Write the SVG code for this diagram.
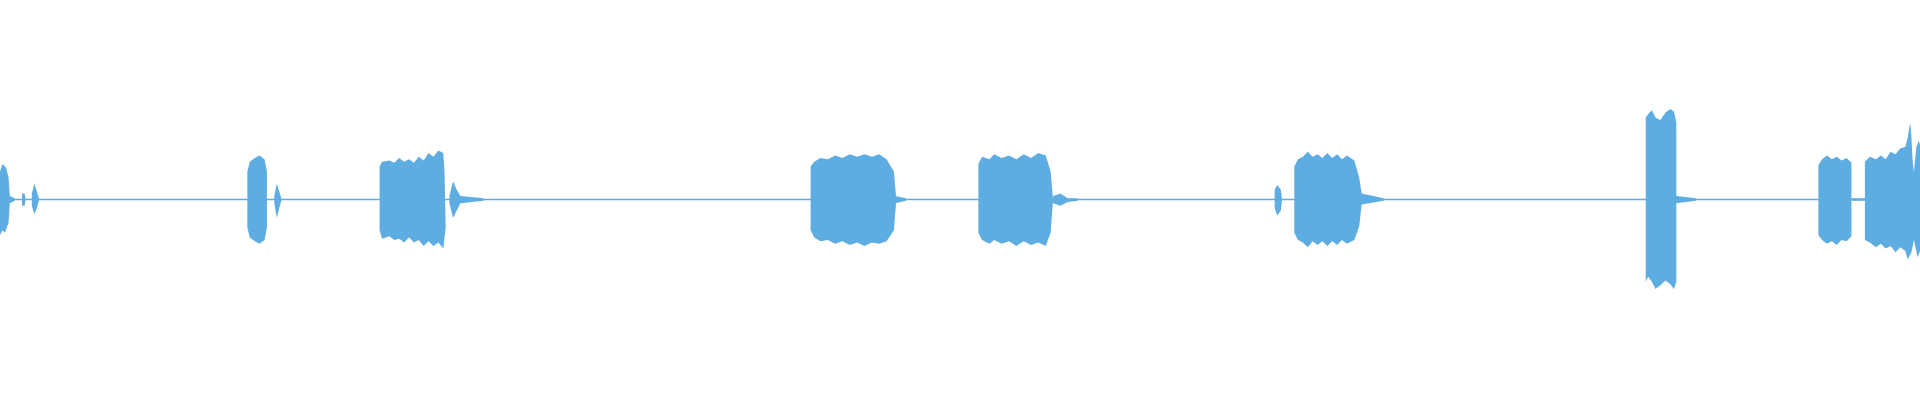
<svg xmlns="http://www.w3.org/2000/svg" width="1920" height="400" viewBox="0 0 1920 400">
<style>.w{fill:#5dade2}.b{stroke:#5dade2;stroke-width:1.2;fill:none}</style>
<rect width="1920" height="400" fill="#fff"/>
<g transform="scale(1.2245)">
<line class="b" x1="0" y1="163" x2="1568" y2="163"/>
<path class="w" d="M0,140 L2,134 L5,137 L7,145 L8,160 L12,162 L12,164 L8,166 L7,182 L4,190 L2,188 L0,192Z"/>
<path class="w" d="M18,158 L20,158 L21,163 L20,168 L18,168Z M26,158 L28,150 L30,156 L32,163 L30,170 L28,175 L26,168Z"/>
<path class="w" d="M202,140 L204,132 L208,129 L212,127 L216,130 L218,140 L218,186 L216,196 L212,199 L208,197 L204,194 L202,186Z M224,160 L226,150 L228,156 L230,163 L228,170 L226,178 L224,166Z"/>
<path class="w" d="M310,136 L312,132 L318,131 L322,133 L326,129 L330,132 L334,130 L338,133 L342,128 L346,131 L350,125 L354,128 L358,123 L362,125 L363,140 L364,186 L362,203 L358,198 L354,201 L350,197 L346,201 L342,196 L338,198 L334,194 L330,198 L326,195 L322,196 L318,193 L312,195 L310,188Z M367,160 L370,148 L373,155 L376,160 L395,162 L395,164 L376,166 L373,172 L370,178 L367,166Z"/>
<path class="w" d="M662,136 L665,132 L670,129 L676,130 L682,127 L688,129 L694,126 L700,128 L706,126 L712,128 L718,126 L724,130 L730,140 L732,163 L730,188 L724,197 L718,199 L712,198 L706,201 L700,198 L694,200 L688,197 L682,199 L676,196 L670,197 L665,194 L662,188Z M731,160 L740,162 L740,164 L731,166Z"/>
<path class="w" d="M799,134 L802,128 L808,130 L812,126 L818,129 L824,127 L830,130 L836,126 L842,129 L848,125 L854,127 L858,140 L860,163 L858,190 L854,201 L848,198 L842,200 L836,197 L830,201 L824,197 L818,199 L812,196 L808,199 L802,196 L799,190Z M860,160 L866,158 L872,162 L880,162 L880,164 L872,165 L866,168 L860,166Z"/>
<path class="w" d="M1041,155 L1043,151 L1046,155 L1047,163 L1046,172 L1043,176 L1041,170Z"/>
<path class="w" d="M1057,136 L1060,130 L1064,128 L1068,124 L1072,128 L1076,126 L1080,129 L1084,125 L1088,129 L1092,126 L1096,130 L1100,127 L1106,131 L1110,145 L1112,158 L1130,162 L1130,164 L1112,167 L1110,185 L1106,196 L1100,199 L1096,196 L1092,200 L1088,197 L1084,201 L1080,197 L1076,200 L1072,197 L1068,202 L1064,198 L1060,196 L1057,190Z"/>
<path class="w" d="M1344,96 L1346,93 L1349,90 L1352,96 L1356,98 L1360,92 L1364,89 L1367,91 L1369,100 L1369,160 L1385,162 L1385,164 L1369,166 L1369,230 L1367,236 L1364,232 L1360,229 L1356,233 L1352,236 L1349,230 L1346,226 L1344,230Z"/>
<path class="w" d="M1485,135 L1488,130 L1492,127 L1496,130 L1500,128 L1504,131 L1508,129 L1512,133 L1512,193 L1508,197 L1504,196 L1500,200 L1496,197 L1492,199 L1488,196 L1485,192Z"/>
<path class="w" d="M1512,162 L1523,162 L1523,164 L1512,164Z M1523,132 L1527,128 L1532,130 L1536,127 L1540,130 L1544,124 L1548,126 L1552,121 L1556,120 L1558,112 L1560,100 L1561,112 L1562,132 L1563,140 L1565,120 L1567,115 L1568,118 L1568,205 L1566,210 L1563,196 L1561,206 L1558,212 L1556,205 L1552,202 L1548,206 L1544,201 L1540,203 L1536,199 L1532,202 L1527,198 L1523,196Z"/>
</g>
</svg>
